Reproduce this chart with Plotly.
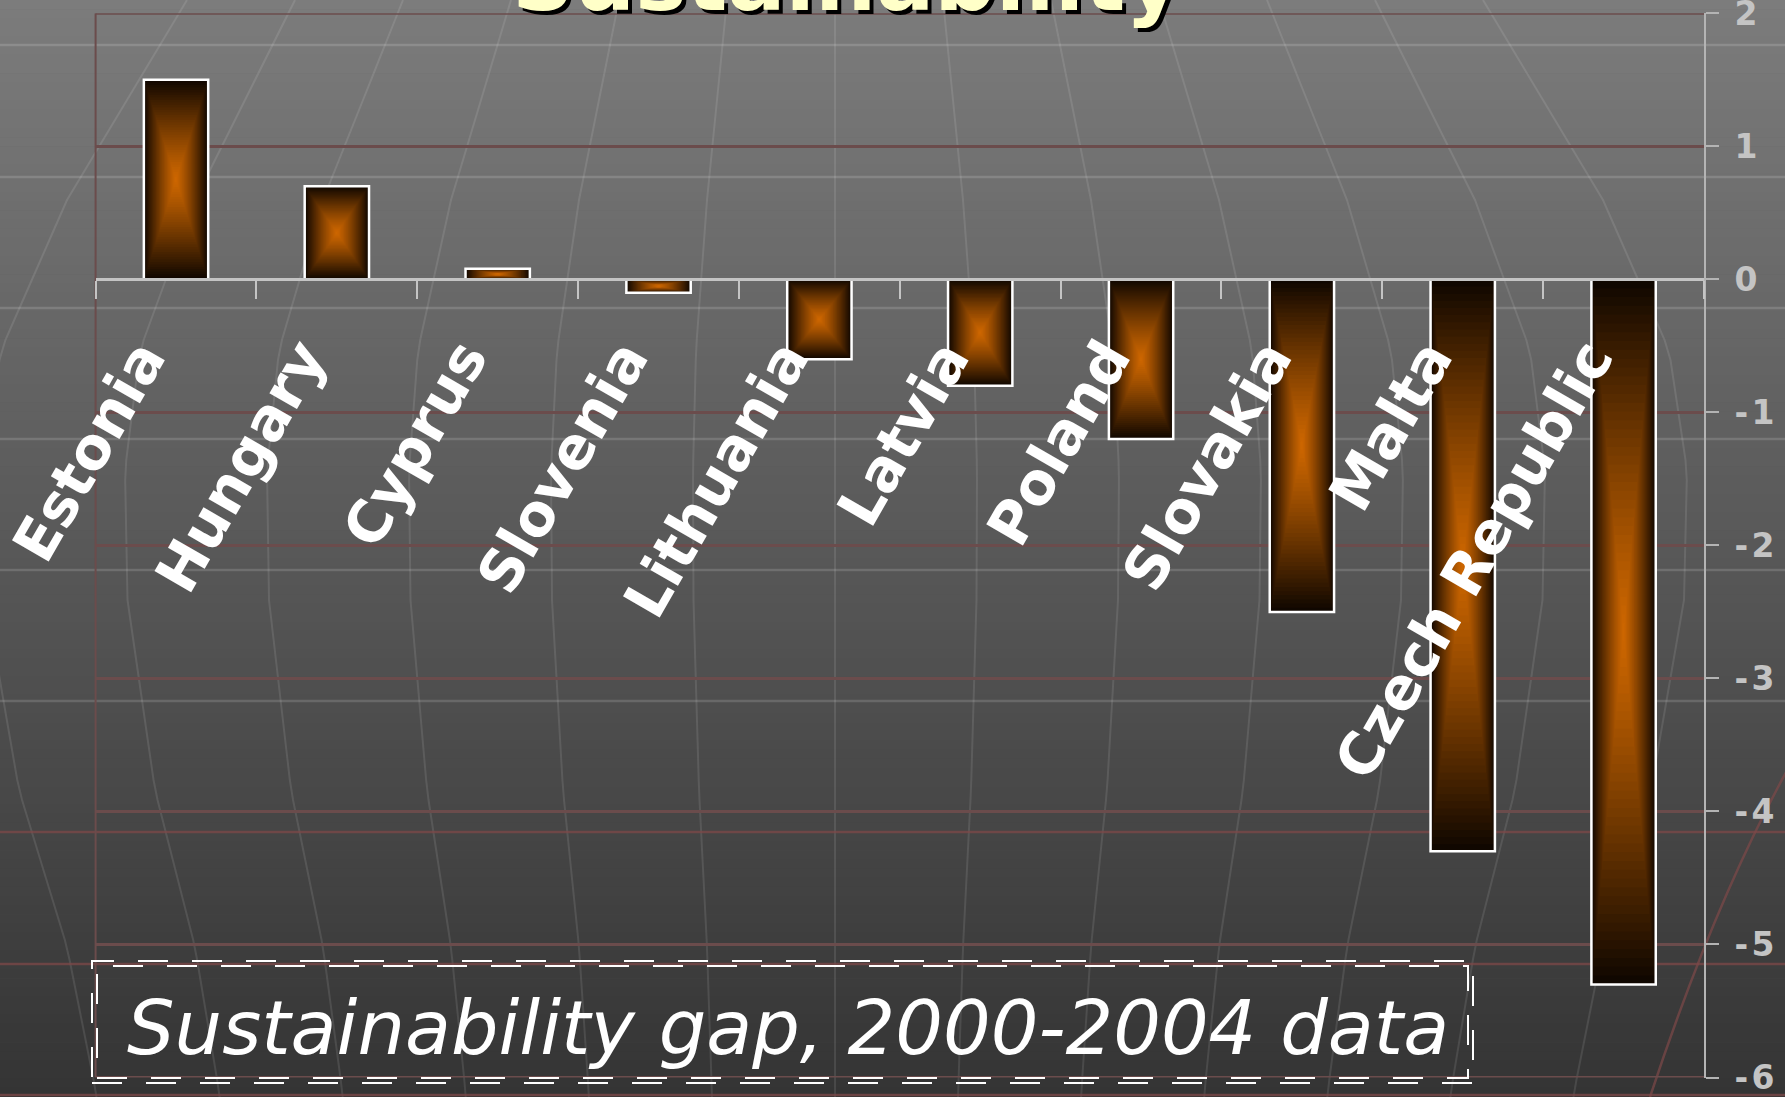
import plotly.graph_objects as go

# ---- data -------------------------------------------------------------
countries = ["Estonia", "Hungary", "Cyprus", "Slovenia", "Lithuania",
             "Latvia", "Poland", "Slovakia", "Malta", "Czech Republic"]
sustainability_gap = [1.5, 0.7, 0.08, -0.1, -0.6, -0.8, -1.2, -2.5, -4.3, -5.3]

y_tick_values = [2, 1, 0, -1, -2, -3, -4, -5, -6]
y_tick_labels = ["2", "1", "0", "-\u200a1", "-\u200a2", "-\u200a3", "-\u200a4", "-\u200a5", "-\u200a6"]

title_text = "Sustainability"
caption_text = "Sustainability gap, 2000-2004 data"

# ---- canvas geometry (pixel helpers -> paper fractions) --------------
W, H = 1785, 1097


def fx(px):
    return px / W


def fy(py):
    return 1 - py / H


X_DOMAIN = [fx(95.6), fx(1704)]
Y_DOMAIN = [fy(1077.5), fy(13.3)]
Y_RANGE = [-6, 2]
zero_pos = Y_DOMAIN[0] + (0 - Y_RANGE[0]) / (Y_RANGE[1] - Y_RANGE[0]) * (Y_DOMAIN[1] - Y_DOMAIN[0])

GRID_RED = "#6b4c4c"
AXIS_GREY = "#b4b4b4"

# ---- bars: rectangular "from centre" gradient built from nested layers
BAR_WIDTH = 0.4
EDGE = (16, 7, 0)
CORE = (206, 103, 0)
N_LAYERS = 40

fig = go.Figure()
for i in range(N_LAYERS):
    f = 1 - i / N_LAYERS
    m = f ** 1.2
    col = tuple(round(CORE[j] + (EDGE[j] - CORE[j]) * m) for j in range(3))
    fig.add_trace(go.Bar(
        x=countries,
        y=[v * f for v in sustainability_gap],
        base=[v / 2 * (1 - f) for v in sustainability_gap],
        width=BAR_WIDTH * f,
        marker=dict(color="rgb(%d,%d,%d)" % col, line=dict(width=0)),
        hoverinfo="skip", showlegend=False,
    ))

# white outline on top of the gradient
fig.add_trace(go.Bar(
    x=countries, y=sustainability_gap, width=BAR_WIDTH,
    marker=dict(color="rgba(0,0,0,0)", line=dict(color="white", width=2.5)),
    hoverinfo="skip", showlegend=False,
))

# ---- background: vertical grey gradient + globe wireframe -------------
shapes = []
TOP_C, BOT_C = 124, 52
N_BANDS = 120
for b in range(N_BANDS):
    t = (b + 0.5) / N_BANDS
    g = round(TOP_C + (BOT_C - TOP_C) * t)
    shapes.append(dict(type="rect", xref="paper", yref="paper", layer="below",
                       x0=0, x1=1, y0=fy((b + 1) * H / N_BANDS + 0.6), y1=fy(b * H / N_BANDS),
                       fillcolor="rgb(%d,%d,%d)" % (g, g, g), line=dict(width=0)))

# meridians of the globe motif
SPREAD = [(0, 108), (200, 128), (350, 139), (470, 142), (600, 141.5),
          (790, 136), (947, 128), (1097, 123)]


def spread(y):
    for (y0, s0), (y1, s1) in zip(SPREAD[:-1], SPREAD[1:]):
        if y0 <= y <= y1:
            return s0 + (s1 - s0) * (y - y0) / (y1 - y0)
    return SPREAD[-1][1]


CX = 835
for k in range(-6, 7):
    pts = [(CX + k * spread(y), y) for y in range(0, H + 20, 20)]
    path = "M " + " L ".join("%.5f,%.5f" % (fx(x), fy(y)) for x, y in pts)
    shapes.append(dict(type="path", xref="paper", yref="paper", layer="below", path=path,
                       line=dict(color="rgba(255,255,255,0.10)", width=2)))

# parallels of the globe motif
for yy in [45, 177, 308, 439, 570, 701]:
    shapes.append(dict(type="line", xref="paper", yref="paper", layer="below",
                       x0=0, x1=1, y0=fy(yy), y1=fy(yy),
                       line=dict(color="rgba(255,255,255,0.15)", width=2.5)))
for yy in [832, 964, 1095]:
    shapes.append(dict(type="line", xref="paper", yref="paper", layer="below",
                       x0=0, x1=1, y0=fy(yy), y1=fy(yy),
                       line=dict(color="rgba(125,72,72,0.75)", width=2.5)))
shapes.append(dict(type="path", xref="paper", yref="paper", layer="below",
                   path="M %.5f,%.5f Q %.5f,%.5f %.5f,%.5f" % (fx(1650), fy(1097), fx(1715), fy(900), fx(1790), fy(765)),
                   line=dict(color="rgba(125,72,72,0.7)", width=2.5)))

# plot frame: left border plus top and bottom rules
shapes.append(dict(type="line", xref="paper", yref="y", layer="below",
                   x0=X_DOMAIN[0], x1=X_DOMAIN[0], y0=Y_RANGE[0], y1=Y_RANGE[1],
                   line=dict(color=GRID_RED, width=2)))
for yv in Y_RANGE:
    shapes.append(dict(type="line", xref="paper", yref="y", layer="below",
                       x0=X_DOMAIN[0], x1=X_DOMAIN[1], y0=yv, y1=yv,
                       line=dict(color=GRID_RED, width=3)))

# double dashed frame around the caption
for (x0, y0, x1, y1) in [(92, 961, 1473, 1083), (97, 966, 1468, 1078)]:
    shapes.append(dict(type="rect", xref="paper", yref="paper", layer="above",
                       x0=fx(x0), x1=fx(x1), y0=fy(y1), y1=fy(y0),
                       fillcolor="rgba(0,0,0,0)",
                       line=dict(color="white", width=2, dash="30px,24px")))

# ---- text -------------------------------------------------------------
annotations = [
    dict(text=title_text, xref="paper", yref="paper", x=fx(846), y=fy(32),
         xanchor="center", yanchor="bottom", showarrow=False, xshift=4, yshift=-4,
         font=dict(family="DejaVu Sans", size=86, color="black", weight="bold")),
    dict(text=title_text, xref="paper", yref="paper", x=fx(846), y=fy(32),
         xanchor="center", yanchor="bottom", showarrow=False,
         font=dict(family="DejaVu Sans", size=86, color="#ffffc8", weight="bold")),
    dict(text=caption_text, xref="paper", yref="paper", x=fx(788), y=fy(1028),
         xanchor="center", yanchor="middle", showarrow=False,
         font=dict(family="DejaVu Sans", size=75, color="white", style="italic")),
]

# slanted category names hanging below the zero line
for name in countries:
    annotations.append(dict(
        text=name, x=name, y=0, xref="x", yref="y",
        xanchor="right", yanchor="top", textangle=-60, showarrow=False,
        xshift=6, yshift=-47,
        font=dict(family="DejaVu Sans", size=58, color="white", weight="bold"),
    ))

fig.update_layout(
    width=W, height=H,
    margin=dict(l=0, r=0, t=0, b=0, pad=0),
    paper_bgcolor="#5a5a5a", plot_bgcolor="rgba(0,0,0,0)",
    barmode="overlay", showlegend=False,
    shapes=shapes, annotations=annotations,
    xaxis=dict(
        domain=X_DOMAIN, anchor="free", position=zero_pos,
        type="category", range=[-0.5, len(countries) - 0.5],
        showgrid=False, zeroline=False,
        showline=True, linecolor="#c4c4c4", linewidth=3,
        ticks="outside", tickson="boundaries", ticklen=18, tickwidth=2, tickcolor="#c4c4c4",
        showticklabels=False,
        automargin=False, fixedrange=True,
    ),
    yaxis=dict(
        domain=Y_DOMAIN, anchor="x", side="right", range=Y_RANGE,
        tickmode="array", tickvals=y_tick_values, ticktext=y_tick_labels,
        showgrid=True, gridcolor=GRID_RED, gridwidth=2.5, zeroline=False,
        showline=True, linecolor=AXIS_GREY, linewidth=2,
        ticks="outside", ticklen=13, tickwidth=2, tickcolor=AXIS_GREY,
        ticklabelstandoff=9, ticklabeloverflow="allow",
        tickfont=dict(family="DejaVu Sans", size=33, color="#c4c4c4", weight="bold"),
        automargin=False, fixedrange=True,
    ),
)

fig.write_html("out.html")
